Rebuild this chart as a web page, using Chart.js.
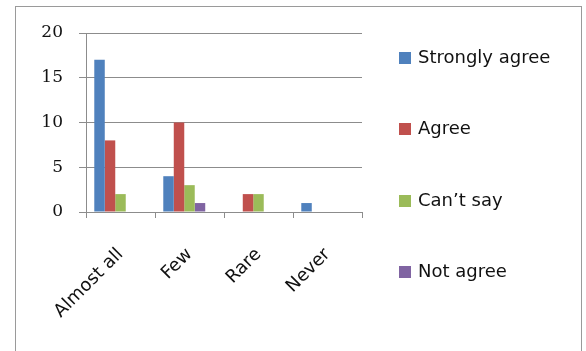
<!DOCTYPE html>
<html>
<head>
<meta charset="utf-8">
<script src="https://cdn.jsdelivr.net/npm/chart.js@4/dist/chart.umd.min.js"></script>
<style>
  html, body { margin: 0; padding: 0; background: #fff; }
  #wrap { position: relative; width: 586px; height: 351px; overflow: hidden; }
  #frame { position: absolute; left: 15px; top: 6px; width: 567px; height: 400px; border: 1.5px solid #9a9a9a; box-sizing: border-box; }
  #chart { position: absolute; left: 0; top: 0; }
</style>
</head>
<body>
<div id="wrap">
  <div id="frame"></div>
  <canvas id="chart" width="586" height="351"></canvas>
</div>
<script>
// Nhóm trên trục hoành
const categories = ["Almost all", "Few", "Rare", "Never"];

// Giá trị của từng chuỗi
const stronglyAgree = [17, 4, 0, 1];
const agree = [8, 10, 2, 0];
const cantSay = [2, 3, 2, 0];
const notAgree = [0, 1, 0, 0];

const seriesNames = ["Strongly agree", "Agree", "Can\u2019t say", "Not agree"];
const seriesColors = ["#4f81bd", "#c0504d", "#9bbb59", "#8064a2"];

// Nhãn trục tung
const yTicks = [0, 5, 10, 15, 20];

const gridColor = "#8c8c8c";

// Chú giải vẽ tay bên phải
const sideLegend = {
  id: "sideLegend",
  afterDraw(chart) {
    const ctx = chart.ctx;
    const rows = [58, 129, 201, 272];
    ctx.save();
    ctx.font = "18px 'DejaVu Sans'";
    ctx.textBaseline = "middle";
    ctx.textAlign = "left";
    chart.data.datasets.forEach((ds, i) => {
      if (!ds.label) return;
      ctx.fillStyle = ds.backgroundColor;
      ctx.fillRect(399, rows[i] - 6, 12, 12);
      ctx.fillStyle = "#111";
      ctx.fillText(ds.label, 418, rows[i]);
    });
    ctx.restore();
  }
};

const seriesData = [stronglyAgree, agree, cantSay, notAgree];
const datasets = seriesData.map((values, i) => ({
  label: seriesNames[i],
  data: values,
  backgroundColor: seriesColors[i],
  borderWidth: 0
}));
// chỗ trống thứ năm như trong Excel
datasets.push({ label: "", data: categories.map(() => null), backgroundColor: "transparent" });

new Chart(document.getElementById("chart"), {
  type: "bar",
  data: { labels: categories, datasets: datasets },
  options: {
    responsive: false,
    animation: false,
    categoryPercentage: 0.76,
    barPercentage: 1,
    layout: { padding: { left: 0, right: 224, top: 33, bottom: 0 } },
    plugins: {
      legend: { display: false },
      tooltip: { enabled: false }
    },
    scales: {
      x: {
        afterFit: (s) => { s.height = 139; },
        border: { color: gridColor, width: 1 },
        grid: { offset: true, drawOnChartArea: false, drawTicks: true, tickLength: 6, color: gridColor },
        ticks: {
          minRotation: 45,
          maxRotation: 45,
          padding: 26,
          color: "#111",
          font: { family: "'DejaVu Sans'", size: 18 }
        }
      },
      y: {
        min: 0,
        max: 20,
        afterFit: (s) => { s.width = 86; },
        afterBuildTicks: (s) => { s.ticks = yTicks.map((v) => ({ value: v })); },
        border: { color: gridColor, width: 1 },
        grid: { color: gridColor, lineWidth: 1, tickLength: 7 },
        ticks: {
          padding: 16,
          color: "#111",
          font: { family: "'DejaVu Serif'", size: 17 }
        }
      }
    }
  },
  plugins: [sideLegend]
});
</script>
</body>
</html>
